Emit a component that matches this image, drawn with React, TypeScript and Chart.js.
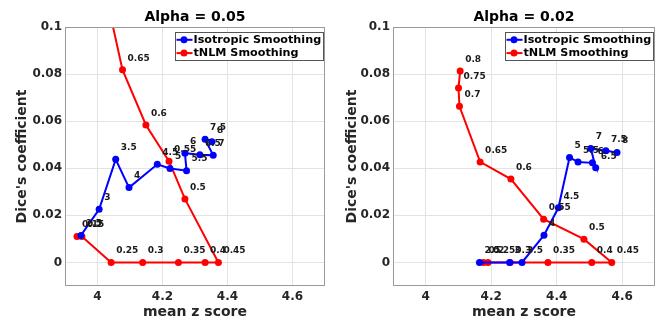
import React, { useEffect, useRef } from 'react';
import { Chart, registerables } from 'chart.js';
Chart.register(...registerables);

const xTickValues = [4, 4.2, 4.4, 4.6];
const yTickValues = [0, 0.02, 0.04, 0.06, 0.08, 0.1];
const seriesNames = ['Isotropic Smoothing', 'tNLM Smoothing'];
const panelTitles = ['Alpha = 0.05', 'Alpha = 0.02'];

// Alpha = 0.05
const isoLabelsA = ['2.5', '3', '3.5', '4', '4.5', '5', '5.5', '6', '6.5', '7', '7.5', '8'];
const isoXA = [3.949, 4.005, 4.056, 4.097, 4.184, 4.223, 4.274, 4.269, 4.315, 4.356, 4.331, 4.352];
const isoYA = [0.0115, 0.0226, 0.0438, 0.0318, 0.0417, 0.0399, 0.039, 0.0464, 0.0457, 0.0455, 0.0523, 0.0513];
const nlmLabelsA = ['0.15', '0.2', '0.25', '0.3', '0.35', '0.4', '0.45', '0.5', '0.55', '0.6', '0.65', '0.7'];
const nlmXA = [3.937, 3.952, 4.042, 4.139, 4.249, 4.331, 4.372, 4.269, 4.22, 4.149, 4.077, 4.035];
const nlmYA = [0.011, 0.011, 0, 0, 0, 0, 0, 0.027, 0.043, 0.0584, 0.0818, 0.108];

// Alpha = 0.02
const isoLabelsB = ['2.5', '3', '3.5', '4', '4.5', '5', '5.5', '6', '6.5', '7', '7.5', '8'];
const isoXB = [4.164, 4.256, 4.294, 4.361, 4.405, 4.439, 4.465, 4.509, 4.519, 4.504, 4.55, 4.584];
const isoYB = [0, 0, 0, 0.0116, 0.0232, 0.0446, 0.0427, 0.0423, 0.0402, 0.0484, 0.0474, 0.0467];
const nlmLabelsB = ['0.2', '0.25', '0.3', '0.35', '0.4', '0.45', '0.5', '0.55', '0.6', '0.65', '0.7', '0.75', '0.8'];
const nlmXB = [4.176, 4.19, 4.258, 4.373, 4.507, 4.568, 4.483, 4.36, 4.26, 4.166, 4.103, 4.1, 4.105];
const nlmYB = [0, 0, 0, 0, 0, 0, 0.0099, 0.0184, 0.0354, 0.0427, 0.0663, 0.0741, 0.0813];

const BLUE = '#0000ff';
const RED = '#ff0000';
const FONT = '"DejaVu Sans", sans-serif';

type Panel = {
  title: string;
  isoX: number[]; isoY: number[]; isoL: string[];
  nlmX: number[]; nlmY: number[]; nlmL: string[];
  yAxisWidth: number;
};

const panels: Panel[] = [
  { title: panelTitles[0], isoX: isoXA, isoY: isoYA, isoL: isoLabelsA, nlmX: nlmXA, nlmY: nlmYA, nlmL: nlmLabelsA, yAxisWidth: 65 },
  { title: panelTitles[1], isoX: isoXB, isoY: isoYB, isoL: isoLabelsB, nlmX: nlmXB, nlmY: nlmYB, nlmL: nlmLabelsB, yAxisWidth: 63 },
];

function makeChart(canvas: HTMLCanvasElement, p: Panel) {
  const pts = (xs: number[], ys: number[]) => xs.map((x, i) => ({ x, y: ys[i] }));
  const overlay = {
    id: 'overlay',
    afterDatasetsDraw(chart: any) {
      const { ctx, chartArea: a } = chart;
      ctx.save();
      // point labels
      ctx.font = `bold 9px ${FONT}`;
      ctx.fillStyle = '#1a1a1a';
      ctx.textAlign = 'left';
      ctx.textBaseline = 'middle';
      chart.data.datasets.forEach((ds: any, di: number) => {
        const meta = chart.getDatasetMeta(di);
        meta.data.forEach((pt: any, i: number) => {
          if (pt.y < a.top - 1 || pt.y > a.bottom + 1 || pt.x < a.left - 1 || pt.x > a.right + 1) return;
          ctx.fillText(ds.pointLabels[i], pt.x + 5, pt.y - 11.5);
        });
      });
      // axes box
      ctx.strokeStyle = '#9a9a9a';
      ctx.lineWidth = 1;
      ctx.strokeRect(Math.round(a.left) + 0.5, Math.round(a.top) + 0.5, Math.round(a.width) - 1, Math.round(a.height) - 1);
      // title
      ctx.font = `bold 14px ${FONT}`;
      ctx.fillStyle = '#000';
      ctx.textAlign = 'center';
      ctx.fillText(p.title, (a.left + a.right) / 2, 17);
      // legend
      const bw = 148, bh = 28;
      const bx = Math.round(a.right - 2 - bw) + 0.5, by = Math.round(a.top + 5) + 0.5;
      ctx.fillStyle = '#fff';
      ctx.fillRect(bx, by, bw, bh);
      ctx.strokeStyle = '#555';
      ctx.strokeRect(bx, by, bw, bh);
      const rows = [
        { c: BLUE, t: seriesNames[0], y: by + 7.3 },
        { c: RED, t: seriesNames[1], y: by + 20.6 },
      ];
      ctx.font = `bold 11.2px ${FONT}`;
      ctx.textAlign = 'left';
      rows.forEach((r) => {
        ctx.strokeStyle = r.c;
        ctx.lineWidth = 2;
        ctx.beginPath();
        ctx.moveTo(bx + 1, r.y);
        ctx.lineTo(bx + 17, r.y);
        ctx.stroke();
        ctx.fillStyle = r.c;
        ctx.beginPath();
        ctx.arc(bx + 8.5, r.y, 3.5, 0, Math.PI * 2);
        ctx.fill();
        ctx.fillStyle = '#000';
        ctx.fillText(r.t, bx + 18, r.y);
      });
      ctx.restore();
    },
  };

  const tickFont = { family: FONT, size: 12, weight: 'bold' as const };
  const titleFont = { family: FONT, size: 14, weight: 'bold' as const };

  return new Chart(canvas, {
    type: 'scatter',
    data: {
      datasets: [
        {
          label: seriesNames[0],
          data: pts(p.isoX, p.isoY),
          showLine: true,
          borderColor: BLUE,
          backgroundColor: BLUE,
          borderWidth: 2,
          pointRadius: 3.5,
          pointBorderWidth: 0,
          pointBackgroundColor: BLUE,
          pointLabels: p.isoL,
        } as any,
        {
          label: seriesNames[1],
          data: pts(p.nlmX, p.nlmY),
          showLine: true,
          borderColor: RED,
          backgroundColor: RED,
          borderWidth: 2,
          pointRadius: 3.5,
          pointBorderWidth: 0,
          pointBackgroundColor: RED,
          pointLabels: p.nlmL,
        } as any,
      ],
    },
    options: {
      responsive: false,
      animation: false,
      maintainAspectRatio: false,
      layout: { padding: { top: 27, right: 5, left: 0, bottom: 0 } },
      plugins: { legend: { display: false }, tooltip: { enabled: false }, title: { display: false } },
      scales: {
        x: {
          type: 'linear',
          min: 3.9,
          max: 4.7,
          afterBuildTicks: (s: any) => { s.ticks = xTickValues.map((v) => ({ value: v })); },
          afterFit: (s: any) => { s.height = 35; },
          ticks: { font: tickFont, color: '#262626', padding: 4, callback: (v: any) => String(v) },
          grid: { color: '#e3e3e3', drawTicks: false },
          border: { display: false },
          title: { display: true, text: 'mean z score', font: titleFont, color: '#262626', padding: { top: 0, bottom: 0 } },
        },
        y: {
          type: 'linear',
          min: -0.01,
          max: 0.1,
          afterBuildTicks: (s: any) => { s.ticks = yTickValues.map((v) => ({ value: v })); },
          afterFit: (s: any) => { s.width = p.yAxisWidth; },
          ticks: { font: tickFont, color: '#262626', padding: 3, callback: (v: any) => String(v) },
          grid: { color: '#e3e3e3', drawTicks: false },
          border: { display: false },
          title: { display: true, text: "Dice's coefficient", font: titleFont, color: '#262626', padding: { top: 13.5, bottom: 0 } },
        },
      },
    } as any,
    plugins: [overlay],
  });
}

function PanelChart({ panel, left }: { panel: Panel; left: number }) {
  const ref = useRef<HTMLCanvasElement | null>(null);
  useEffect(() => {
    if (!ref.current) return;
    const c = makeChart(ref.current, panel);
    return () => c.destroy();
  }, [panel]);
  return (
    <canvas
      ref={ref}
      width={330}
      height={321}
      style={{ position: 'absolute', left, top: 0, width: 330, height: 321, display: 'block' }}
    />
  );
}

export default function App() {
  return (
    <div style={{ position: 'fixed', left: 0, top: 0, width: 660, height: 321, background: '#fff' }}>
      <PanelChart panel={panels[0]} left={0} />
      <PanelChart panel={panels[1]} left={330} />
    </div>
  );
}
